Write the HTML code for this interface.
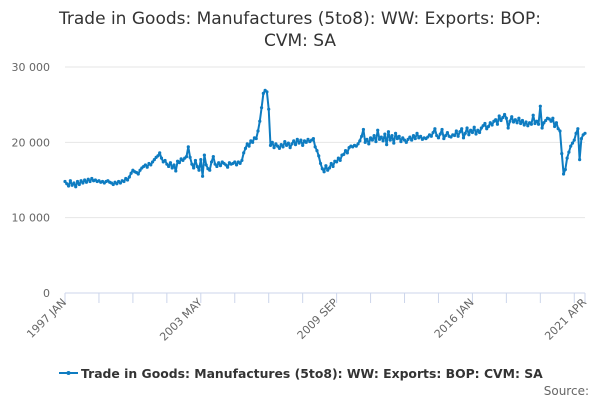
<!DOCTYPE html>
<html><head><meta charset="utf-8">
<style>
body{margin:0;background:#fff;}
svg{display:block;font-family:"DejaVu Sans","Liberation Sans",sans-serif;}
</style></head>
<body>
<svg id="chart" width="600" height="400">
<text x="300" y="24" text-anchor="middle" font-size="17" fill="#333">Trade in Goods: Manufactures (5to8): WW: Exports: BOP:</text>
<text x="300" y="46" text-anchor="middle" font-size="17" fill="#333">CVM: SA</text>
<g id="grid"></g>
<g id="yaxis"></g>
<g id="xaxis"></g>
<g id="series"></g>
<g>
<line x1="59" y1="373" x2="78" y2="373" stroke="#0e7cc1" stroke-width="2"/>
<circle cx="68.5" cy="373" r="2" fill="#0e7cc1"/>
<text x="81" y="378" font-size="12.4" font-weight="bold" fill="#333">Trade in Goods: Manufactures (5to8): WW: Exports: BOP: CVM: SA</text>
</g>
<text x="589" y="395" text-anchor="end" font-size="12" fill="#666">Source:</text>
</svg>
<script>
const startYear = 1997;
const yTicks = [0, 10000, 20000, 30000];
const yTickLabels = ["0", "10 000", "20 000", "30 000"];
const xLabels = ["1997 JAN", "2003 MAY", "2009 SEP", "2016 JAN", "2021 APR"];
const xLabelIdx = [0, 76, 152, 228, 291];
const values = [
14.8,14.5,14.2,14.9,14.3,14.6,14.1,14.8,14.4,14.9,14.6,15.0,
14.7,15.1,14.8,15.2,14.9,15.0,14.8,14.9,14.7,14.8,14.6,14.8,
14.9,14.7,14.6,14.4,14.7,14.5,14.8,14.6,14.9,14.8,15.2,15.0,
15.4,15.9,16.3,16.1,16.0,15.8,16.3,16.6,16.8,17.0,16.7,17.2,
17.0,17.4,17.7,18.0,18.2,18.6,17.9,17.4,17.6,17.1,16.8,17.3,
16.6,17.0,16.2,17.5,17.3,17.8,17.6,17.9,18.1,19.4,18.0,17.1,
16.6,17.6,16.8,16.3,17.7,15.5,18.3,17.0,16.5,16.3,17.4,18.1,
17.1,16.8,17.3,16.9,17.4,17.2,17.0,16.7,17.3,17.1,17.2,17.4,
17.0,17.4,17.2,17.6,18.6,19.2,19.8,19.5,20.2,20.0,20.6,20.5,
21.5,22.8,24.6,26.5,26.9,26.7,24.4,19.6,20.0,19.3,19.8,19.5,
19.2,19.7,19.4,20.1,19.6,19.9,19.3,19.8,20.2,19.7,20.4,19.9,
20.3,19.6,20.2,20.0,20.4,20.1,20.3,20.5,19.4,18.9,18.2,17.2,
16.5,16.1,16.9,16.3,16.6,17.2,16.8,17.5,17.4,17.9,17.6,18.3,
18.4,18.9,18.6,19.3,19.5,19.4,19.6,19.5,19.8,20.2,20.8,21.7,
20.0,20.4,19.8,20.6,20.3,20.9,20.1,21.6,20.4,20.7,20.2,21.1,
19.7,21.4,20.3,20.9,19.9,21.2,20.5,20.8,20.1,20.6,20.3,20.0,
20.4,20.7,20.3,20.9,20.5,21.2,20.6,20.8,20.4,20.6,20.5,20.7,
21.0,20.8,21.3,21.8,20.9,20.6,21.1,21.7,20.5,20.9,21.3,20.8,
20.7,21.0,20.9,21.5,20.8,21.4,21.8,20.6,21.2,21.9,21.0,21.6,
21.3,22.0,21.1,21.6,21.3,21.9,22.2,22.5,21.8,22.1,22.6,22.3,
22.8,23.0,22.4,23.5,22.9,23.3,23.7,23.2,21.9,22.8,23.4,22.7,
23.0,22.6,23.2,22.5,22.9,22.3,22.7,22.2,22.6,22.4,23.6,22.5,
22.8,22.4,24.8,21.9,22.6,22.9,23.2,23.1,22.8,23.2,22.1,22.6,
21.8,21.5,18.5,15.8,16.4,17.9,18.7,19.5,19.9,20.3,21.2,21.8,
17.7,20.5,21.0,21.2
];
const NS = "http://www.w3.org/2000/svg";
const X0 = 65, X1 = 585, Y0 = 293, YTOP = 67;
const n = values.length;
function xs(i){ return X0 + (X1 - X0) * i / (n - 1); }
function ys(v){ return Y0 - (Y0 - YTOP) * v / 30000; }
function mk(tag, attrs, parent){ const e = document.createElementNS(NS, tag); for (const k in attrs) e.setAttribute(k, attrs[k]); parent.appendChild(e); return e; }
const grid = document.getElementById('grid'), yaxis = document.getElementById('yaxis'), xaxis = document.getElementById('xaxis'), series = document.getElementById('series');
yTicks.forEach((t, i) => {
  if (t > 0) {
    const g = mk('line', {x1: X0, x2: X1, y1: ys(t), y2: ys(t), stroke: '#e6e6e6', 'stroke-width': 1}, grid);
    
    
  }
  const tx = mk('text', {x: 50, y: ys(t) + 4, 'text-anchor': 'end', 'font-size': 11, fill: '#666'}, yaxis);
  tx.textContent = yTickLabels[i];
  
  
});
const ax = mk('line', {x1: X0, x2: X1, y1: Y0, y2: Y0, stroke: '#ccd6eb', 'stroke-width': 1}, xaxis);


for (let i = 0; i < n; i += 19) {
  const tk = mk('line', {x1: xs(i), x2: xs(i), y1: Y0, y2: Y0 + 10, stroke: '#ccd6eb'}, xaxis);
  
  
}
const tkEnd = mk('line', {x1: xs(n-1), x2: xs(n-1), y1: Y0, y2: Y0 + 10, stroke: '#ccd6eb'}, xaxis);


xLabels.forEach((lb, i) => {
  const x = xs(xLabelIdx[i]);
  const t = mk('text', {x: x + 2, y: Y0 + 10, 'text-anchor': 'end', 'font-size': 11, fill: '#666', transform: `rotate(-45 ${x + 2} ${Y0 + 10})`}, xaxis);
  t.textContent = lb;
  
  
});
const pts = values.map((v, i) => xs(i).toFixed(1) + ',' + ys(v * 1000).toFixed(1)).join(' ');
const pl = mk('polyline', {points: pts, fill: 'none', stroke: '#0e7cc1', 'stroke-width': 2, 'stroke-linejoin': 'round'}, series);


values.forEach((v, i) => {
  const c = mk('circle', {cx: xs(i), cy: ys(v * 1000), r: 1.6, fill: '#0e7cc1'}, series);
  
  
});
</script>
</body></html>
